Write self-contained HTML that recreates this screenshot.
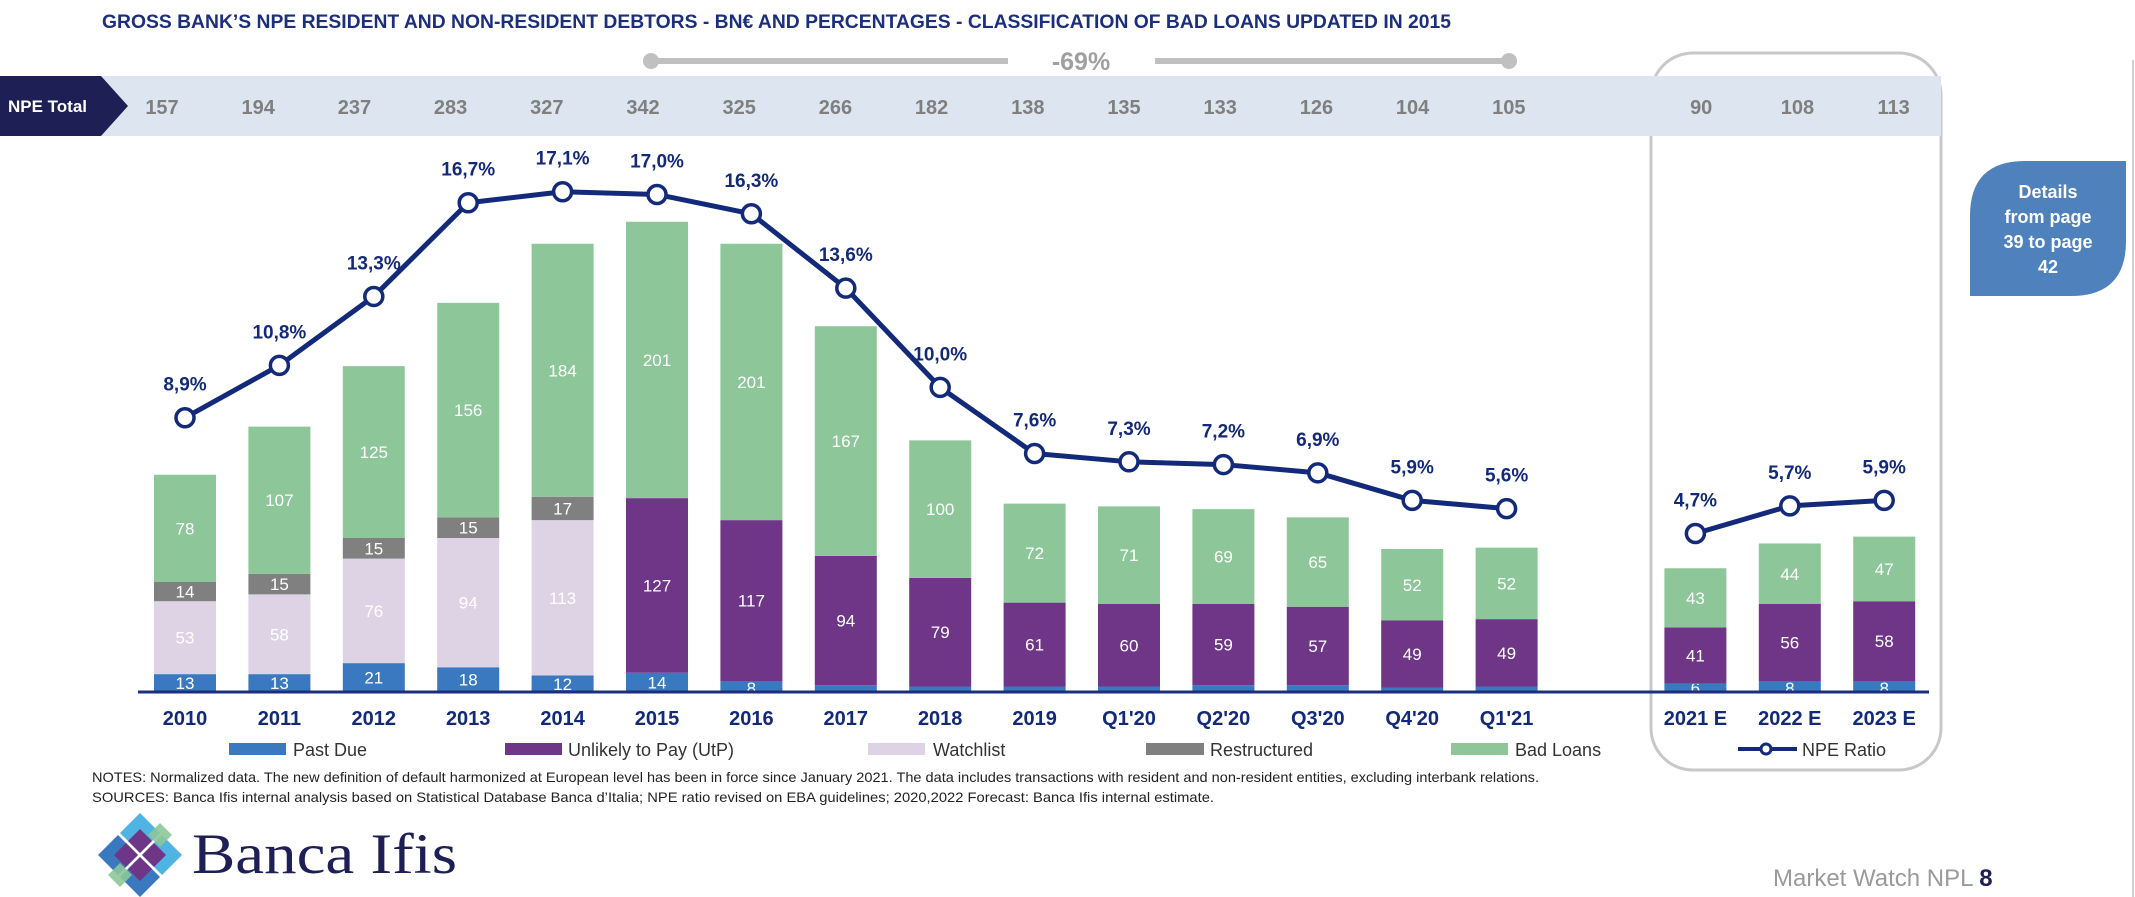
<!DOCTYPE html>
<html><head><meta charset="utf-8"><style>
html,body{margin:0;padding:0;background:#fff;}
svg{display:block;font-family:"Liberation Sans",sans-serif;}
</style></head><body>
<svg id="chart" width="2135" height="897" viewBox="0 0 2135 897" xmlns="http://www.w3.org/2000/svg">
  <text x="102" y="28" font-size="19" font-weight="bold" fill="#1b2f7c" textLength="1349" lengthAdjust="spacingAndGlyphs">GROSS BANK’S NPE RESIDENT AND NON-RESIDENT DEBTORS - BN€ AND PERCENTAGES - CLASSIFICATION OF BAD LOANS UPDATED IN 2015</text>
  <g id="forecast-box"></g>
  <rect x="0" y="76" width="1941" height="60" fill="#dce5f0"/>
  <g>
    <path d="M1005 76 Q1020 42 1080 42 Q1140 42 1158 76 Z" fill="#fff"/>
    <line x1="651" y1="61" x2="1008" y2="61" stroke="#c0c0c0" stroke-width="6"/>
    <line x1="1155" y1="61" x2="1509" y2="61" stroke="#c0c0c0" stroke-width="6"/>
    <circle cx="651" cy="61" r="8" fill="#c0c0c0"/>
    <circle cx="1509" cy="61" r="8" fill="#c0c0c0"/>
    <text x="1081" y="70" font-size="25" font-weight="bold" fill="#a0a0a0" text-anchor="middle">-69%</text>
  </g>
  <path d="M0 76 H101 L128 106 L101 136 H0 Z" fill="#1e1f55"/>
  <text x="8" y="112" font-size="17" font-weight="bold" fill="#fff">NPE Total</text>
  <g id="totals"></g>
  <g id="bars"></g>
  <g id="line"></g>
  <line x1="138" y1="692" x2="1929" y2="692" stroke="#1b2f7c" stroke-width="3"/>
  <g id="xlabels"></g>
  <g font-size="18" fill="#333">
    <g><rect x="229" y="743" width="57" height="12" fill="#3a78bf"/><text x="293" y="756">Past Due</text></g>
    <g><rect x="505" y="743" width="57" height="12" fill="#6f3587"/><text x="568" y="756">Unlikely to Pay (UtP)</text></g>
    <g><rect x="868" y="743" width="57" height="12" fill="#ddd3e5"/><text x="933" y="756">Watchlist</text></g>
    <g><rect x="1146" y="743" width="58" height="12" fill="#808080"/><text x="1210" y="756">Restructured</text></g>
    <g><rect x="1451" y="743" width="57" height="12" fill="#8dc799"/><text x="1515" y="756">Bad Loans</text></g>
    <g><line x1="1738" y1="749" x2="1797" y2="749" stroke="#13297a" stroke-width="4"/><circle cx="1766" cy="749" r="5" fill="#fff" stroke="#13297a" stroke-width="3"/><text x="1802" y="756">NPE Ratio</text></g>
  </g>
  <text x="92" y="782" font-size="14" fill="#222" textLength="1447" lengthAdjust="spacingAndGlyphs">NOTES: Normalized data. The new definition of default harmonized at European level has been in force since January 2021. The data includes transactions with resident and non-resident entities, excluding interbank relations.</text>
  <text x="92" y="802" font-size="14" fill="#222" textLength="1122" lengthAdjust="spacingAndGlyphs">SOURCES: Banca Ifis internal analysis based on Statistical Database Banca d’Italia; NPE ratio revised on EBA guidelines; 2020,2022 Forecast: Banca Ifis internal estimate.</text>
  <g transform="translate(140,855)">
    <path d="M0 -42 L20 -22 L0 -2 L-20 -22 Z" fill="#4fb3e3"/>
    <path d="M0 42 L20 22 L0 2 L-20 22 Z" fill="#3a78bf"/>
    <path d="M-42 0 L-22 20 L-2 0 L-22 -20 Z" fill="#3a78bf"/>
    <path d="M42 0 L22 20 L2 0 L22 -20 Z" fill="#4fb3e3"/>
    <path d="M-12 -14 L0 -26 L12 -14 L0 -2 Z" fill="#6f3587"/>
    <path d="M-12 14 L0 26 L12 14 L0 2 Z" fill="#6f3587"/>
    <path d="M-14 -12 L-26 0 L-14 12 L-2 0 Z" fill="#6f3587"/>
    <path d="M14 -12 L26 0 L14 12 L2 0 Z" fill="#6f3587"/>
    <path d="M8 -20 L20 -32 L32 -20 L20 -8 Z" fill="#8dc799" opacity="0.9"/>
    <path d="M-8 20 L-20 32 L-32 20 L-20 8 Z" fill="#8dc799" opacity="0.9"/>
  </g>
  <text x="192" y="873" font-family="Liberation Serif, serif" font-size="57" fill="#1e1f55" textLength="265" lengthAdjust="spacingAndGlyphs">Banca Ifis</text>
  <text x="1773" y="886" font-size="24" fill="#9a9a9a">Market Watch NPL <tspan font-weight="bold" fill="#1e1f55">8</tspan></text>
  <g>
    <path d="M2025 161 H2126 V241 Q2126 296 2071 296 H1970 V216 Q1970 161 2025 161 Z" fill="#4f81bd"/>
    <text font-size="18" font-weight="bold" fill="#fff" text-anchor="middle">
      <tspan x="2048" y="198">Details</tspan><tspan x="2048" y="223">from page</tspan><tspan x="2048" y="248">39 to page</tspan><tspan x="2048" y="273">42</tspan>
    </text>
  </g>
  <line x1="2133" y1="60" x2="2133" y2="897" stroke="#d0d0d0" stroke-width="2"/>
</svg>
<script>
const categories = ["2010","2011","2012","2013","2014","2015","2016","2017","2018","2019","Q1'20","Q2'20","Q3'20","Q4'20","Q1'21","2021 E","2022 E","2023 E"];
const slots = [0,1,2,3,4,5,6,7,8,9,10,11,12,13,14,16,17,18];
const npeTotals = [157,194,237,283,327,342,325,266,182,138,135,133,126,104,105,90,108,113];
const pastDue = [13,13,21,18,12,14,8,5,4,4,4,5,5,3,4,6,8,8];
const utp = [0,0,0,0,0,127,117,94,79,61,60,59,57,49,49,41,56,58];
const watchlist = [53,58,76,94,113,0,0,0,0,0,0,0,0,0,0,0,0,0];
const restructured = [14,15,15,15,17,0,0,0,0,0,0,0,0,0,0,0,0,0];
const badLoans = [78,107,125,156,184,201,201,167,100,72,71,69,65,52,52,43,44,47];
const npeRatio = [8.9,10.8,13.3,16.7,17.1,17.0,16.3,13.6,10.0,7.6,7.3,7.2,6.9,5.9,5.6,4.7,5.7,5.9];

const NS="http://www.w3.org/2000/svg";
const baseY=692, pxPerUnit=1.375, barW=62;
const xCenter = s => 185 + 94.4*s;
const xTotal = s => 162 + 96.2*s;
const yVal = v => baseY - v*pxPerUnit;
const yRatio = v => 663 - v*27.56;
function mk(tag, attrs, parent){const e=document.createElementNS(NS,tag);for(const k in attrs)e.setAttribute(k,attrs[k]);parent.appendChild(e);return e;}

const fb=document.getElementById('forecast-box');
mk('rect',{x:1651,y:53,width:290,height:717,rx:42,fill:'none',stroke:'#c8c8c8','stroke-width':3},fb);

const gT=document.getElementById('totals');
npeTotals.forEach((v,i)=>{
  const t=mk('text',{x:xTotal(slots[i]),y:114,'font-size':20,'font-weight':'bold',fill:'#7f7f7f','text-anchor':'middle'},gT);
  
  
  t.textContent=v;
});

const gB=document.getElementById('bars');
const series=[["past-due",pastDue,"#3a78bf"],["utp",utp,"#6f3587"],["watchlist",watchlist,"#ddd3e5"],["restructured",restructured,"#808080"],["bad-loans",badLoans,"#8dc799"]];
categories.forEach((c,i)=>{
  const cx=xCenter(slots[i]); let cum=0;
  series.forEach(([name,arr,col],si)=>{
    const v=arr[i]; if(!v) return;
    const y1=yVal(cum), y0=yVal(cum+v);
    const r=mk('rect',{x:cx-barW/2,y:y0,width:barW,height:y1-y0,fill:col},gB);
    
    
    let ly=(y0+y1)/2+6;
    if(si===0 && v<10){ ly = (i>=7 && i<=14) ? baseY-12 : baseY+2; }
    const t=mk('text',{x:cx,y:ly,'font-size':17,fill:'#fff','text-anchor':'middle'},gB);
    
    
    t.textContent=v;
    cum+=v;
  });
  const xl=mk('text',{x:cx,y:725,'font-size':20,'font-weight':'bold',fill:'#13297a','text-anchor':'middle'},document.getElementById('xlabels'));
  
  
  xl.textContent=c;
});

const gL=document.getElementById('line');
function seg(from,to){
  let d='';
  for(let i=from;i<=to;i++) d+=(i===from?'M':'L')+xCenter(slots[i])+' '+yRatio(npeRatio[i]);
  const p=mk('path',{d:d,fill:'none',stroke:'#13297a','stroke-width':5,'stroke-linejoin':'round'},gL);
  
  
}
seg(0,14); seg(15,17);
npeRatio.forEach((v,i)=>{
  const cx=xCenter(slots[i]), cy=yRatio(v);
  const m=mk('circle',{cx:cx,cy:cy,r:9,fill:'#fff',stroke:'#13297a','stroke-width':3.5},gL);
  
  
  const t=mk('text',{x:cx,y:cy-27,'font-size':19,'font-weight':'bold',fill:'#13297a','text-anchor':'middle'},gL);
  
  
  t.textContent=v.toFixed(1).replace('.',',')+'%';
});
</script>
</body></html>
